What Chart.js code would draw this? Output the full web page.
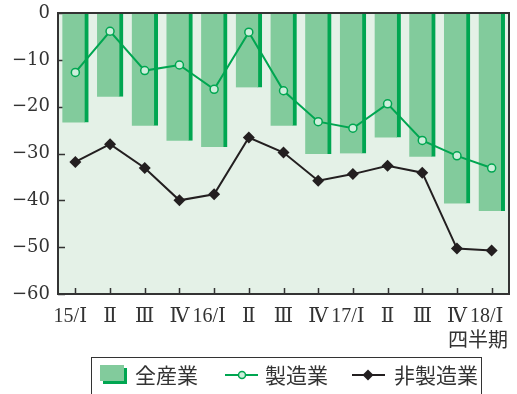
<!DOCTYPE html>
<html><head><meta charset="utf-8">
<script src="https://cdn.jsdelivr.net/npm/chart.js@4/dist/chart.umd.min.js"></script>
<style>
html,body{margin:0;padding:0;background:#fff;}
#wrap{position:relative;width:517px;height:394px;overflow:hidden;}
canvas{position:absolute;left:0;top:0;}
.t{position:absolute;font-family:"Noto Sans CJK JP",sans-serif;color:#333;white-space:nowrap;line-height:1;}
#legend{position:absolute;left:91px;top:357px;width:391px;height:50px;border:1.5px solid #333;box-sizing:border-box;}
</style></head>
<body><div id="wrap">
<canvas id="c" width="517" height="394"></canvas>
<div class="t" style="left:448px;top:329px;font-size:20px;">四半期</div>
<div id="legend"></div>
<svg style="position:absolute;left:0;top:0" width="517" height="394">
  <rect x="103" y="368" width="24" height="16" fill="#00A651"/>
  <rect x="100" y="365" width="24" height="16" fill="#82CB9C"/>
  <line x1="225" y1="375" x2="258" y2="375" stroke="#00A651" stroke-width="2"/>
  <circle cx="242" cy="375" r="3.5" fill="#cdeedb" stroke="#00A651" stroke-width="1.5"/>
  <line x1="352" y1="375" x2="385" y2="375" stroke="#231F20" stroke-width="2"/>
  <polygon points="368,369.5 373.5,375 368,380.5 362.5,375" fill="#231F20"/>
</svg>
<div class="t" style="left:135px;top:364px;font-size:21px;">全産業</div>
<div class="t" style="left:265px;top:364px;font-size:21px;">製造業</div>
<div class="t" style="left:394px;top:364px;font-size:21px;">非製造業</div>
</div>
<script>
const categories = ['15/Ⅰ','Ⅱ','Ⅲ','Ⅳ','16/Ⅰ','Ⅱ','Ⅲ','Ⅳ','17/Ⅰ','Ⅱ','Ⅲ','Ⅳ','18/Ⅰ'];
const allIndustries = [-23.4, -17.9, -24.1, -27.3, -28.6, -15.9, -24.1, -30.1, -30.0, -26.6, -30.7, -40.7, -42.3];
const manufacturing = [-12.7, -3.9, -12.3, -11.1, -16.3, -4.1, -16.6, -23.2, -24.6, -19.4, -27.2, -30.5, -33.1];
const nonManufacturing = [-31.8, -28.0, -33.1, -40.0, -38.7, -26.6, -29.8, -35.8, -34.4, -32.6, -34.1, -50.3, -50.7];
const yTicks = [0, -10, -20, -30, -40, -50, -60];

const framePlugin = {
  id: 'frame',
  beforeDraw(chart) {
    const {ctx, chartArea: a} = chart;
    ctx.save();
    ctx.fillStyle = '#E4F1E7';
    ctx.fillRect(a.left, a.top, a.right - a.left, a.bottom - a.top);
    ctx.restore();
  },
  beforeDatasetsDraw(chart) {
    const {ctx, chartArea: a, scales} = chart;
    ctx.save();
    ctx.strokeStyle = '#333';
    ctx.lineWidth = 1.5;
    ctx.beginPath();
    scales.y.ticks.forEach((t, i) => {
      const y = Math.round(scales.y.getPixelForTick(i)) + 0.5;
      ctx.moveTo(a.left, y); ctx.lineTo(a.left + 7, y);
    });
    scales.x.ticks.forEach((t, i) => {
      const x = Math.round(scales.x.getPixelForTick(i)) + 0.5;
      ctx.moveTo(x, a.bottom); ctx.lineTo(x, a.bottom - 6);
    });
    ctx.stroke();
    ctx.restore();
  },
  afterDraw(chart) {
    const {ctx, chartArea: a} = chart;
    ctx.save();
    ctx.strokeStyle = '#333';
    ctx.lineWidth = 2;
    ctx.strokeRect(a.left, a.top, a.right - a.left, a.bottom - a.top);
    ctx.restore();
  }
};

new Chart(document.getElementById('c'), {
  data: {
    labels: categories,
    datasets: [
      {
        type: 'line', label: '非製造業', data: nonManufacturing, order: 1,
        borderColor: '#231F20', borderWidth: 2, pointStyle: 'rectRot',
        pointRadius: 6, pointBackgroundColor: '#231F20', pointBorderColor: '#231F20',
        pointBorderWidth: 0, tension: 0
      },
      {
        type: 'line', label: '製造業', data: manufacturing, order: 2,
        borderColor: '#00A651', borderWidth: 2, pointStyle: 'circle',
        pointRadius: 4, pointBackgroundColor: '#cdeedb', pointBorderColor: '#00A651',
        pointBorderWidth: 1.5, tension: 0
      },
      {
        type: 'bar', label: '全産業', data: allIndustries, order: 3,
        backgroundColor: '#82CB9C', borderColor: '#00A651',
        borderWidth: {top: 0, right: 4, bottom: 0, left: 0}, borderSkipped: false,
        barThickness: 26
      }
    ]
  },
  options: {
    responsive: false,
    animation: false,
    layout: {padding: {top: 13, right: 8, left: 0, bottom: 0}},
    plugins: {legend: {display: false}, tooltip: {enabled: false}},
    scales: {
      x: {
        offset: true,
        grid: {display: false, drawTicks: false},
        border: {display: false},
        ticks: {
          color: '#333', padding: 11, autoSkip: false, maxRotation: 0,
          font: {family: '"Liberation Serif", "DejaVu Serif", serif', size: 20},
          callback(v, i) { const l = categories[i]; return l.includes('/') ? l + '  ' : l; }
        },
        afterFit(s) { s.height = 100; s.paddingLeft = 0; s.paddingRight = 0; }
      },
      y: {
        min: -60, max: 0,
        afterBuildTicks(s) { s.ticks = yTicks.map(v => ({value: v})); },
        grid: {display: false, drawTicks: false},
        border: {display: false},
        ticks: {
          color: '#333', padding: 8,
          font: {family: '"DejaVu Serif", serif', size: 18},
          callback: v => String(v).replace('-', '−')
        },
        afterFit(s) { s.width = 58; s.paddingTop = 0; s.paddingBottom = 0; }
      }
    }
  },
  plugins: [framePlugin]
});
</script>
</body></html>
